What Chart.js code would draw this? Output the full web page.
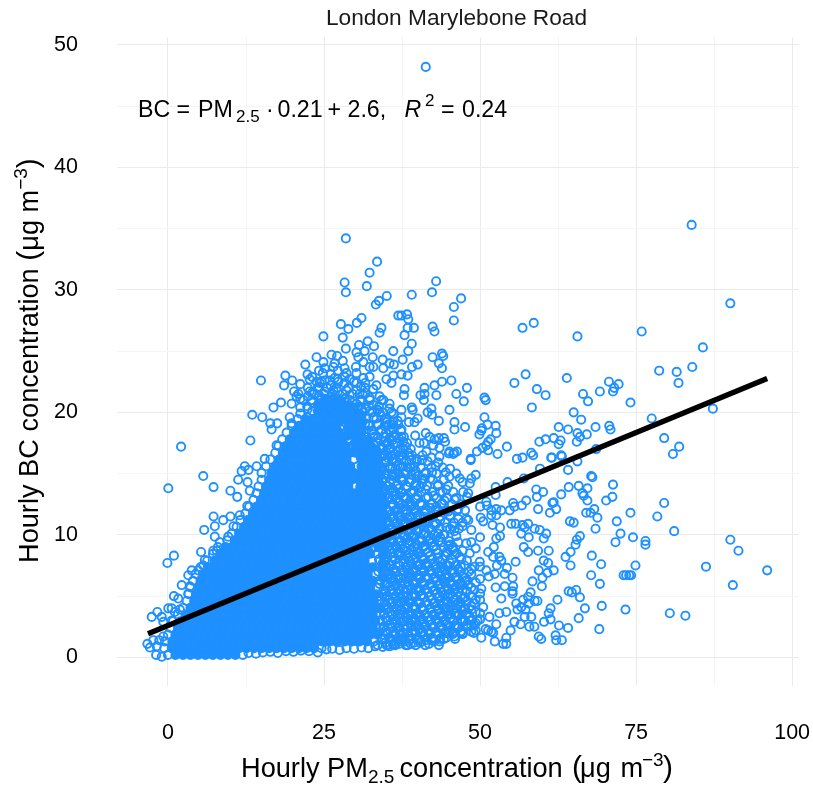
<!DOCTYPE html>
<html><head><meta charset="utf-8">
<style>html,body{margin:0;padding:0;background:#fff}canvas{display:block}</style>
<script src="https://cdn.jsdelivr.net/npm/chart.js@4/dist/chart.umd.min.js"></script>
</head><body><canvas id="c" width="813" height="785"></canvas>
<script>
const chartTitle = "London Marylebone Road";
const xTicks = [0,25,50,75,100];
const yTicks = [0,10,20,30,40,50];
const fitLine = [[-3.2,1.93],[96,22.76]];

// isolated points
const pointsRight = [[83.9,35.3],[90.1,28.9],[42.96,30.7],[42.3,29.8],[39.06,29.6],[46.96,29.3],[45.8,28.6],[45.8,27.5],[56.8,26.9],[58.6,27.3],[65.6,26.2],[75.9,26.6],[85.7,25.3],[84,23.7],[81.5,23.3],[78.7,23.4],[81.8,22.4],[87.3,20.3],[77.5,19.5],[79.5,17.9],[81.9,17.2],[80.9,16.6],[74.1,20.8],[72.2,22.3],[70.65,22.5],[71.5,22],[71.3,21.7],[69.2,21.7],[66.5,21.5],[67.3,20.9],[63.9,22.8],[57.3,23.1],[55.5,22.4],[59.1,21.9],[60.5,21.4],[58.3,20.4],[65,20],[66.2,19.4],[68.5,18.8],[70.7,18.9],[70.9,18.6],[67.1,18.2],[65.6,18.3],[66,18],[65.5,17.6],[64.1,18.6],[62.6,18.8],[61.8,17.9],[62.9,17.7],[62.6,17.4],[60.5,17.8],[59.5,17.6],[54.3,17.2],[52.8,16.6],[58.5,16.5],[58.2,16.7],[55.9,16.2],[56.8,16.3],[61.4,16.3],[63.1,16.4],[68.6,17],[47.9,22],[45.4,22.6],[43.9,22.5],[42.7,22.2],[46.2,21.5],[47.4,20.9],[43,21.4],[41.1,22],[37.9,21.9],[41.1,21.5],[40.45,21.4],[41,21],[37.8,21.4],[45.1,20.2],[42.2,20.3],[39.06,20.4],[39.2,20.2],[41.6,20],[42.3,19.8],[37.4,20.2],[37.4,19.6],[40,19.5],[39.5,19.2],[38.6,19.2],[43.4,19.3],[45.9,19.2],[45.9,18.6],[47.6,18.8],[50.7,19.6],[51.2,19],[50.3,18.7],[50.2,18.5],[49.9,18.2],[52.5,18.9],[52.6,18.3],[51.7,17.8],[51.3,17.6],[51,17.3],[50.4,17.1],[49.5,16.8],[51.3,16.9],[48.5,16.2],[50.7,21.2],[50.9,21],[43.9,24.8],[44.1,24.6],[42.4,24.5],[43.4,24],[43.9,23.6],[40,23.9],[39.1,23.7],[38.4,23],[37.4,23.1],[38.5,25],[39.06,25.6],[37.6,24.3],[37.9,26.3],[39.4,26.9],[38.4,26.9],[42.4,27],[42.7,26.6],[38.5,27.6],[38.3,28],[37.4,27.9],[39.6,18.1],[41.3,18.3],[41.9,18],[42.7,17.8],[43.4,17.9],[44.2,17.9],[44.4,17.6],[40.3,17.5],[41,17.5],[42.5,17.3],[43.5,17.1],[45.1,16.8],[46.3,16.8],[45.7,16.6],[41.4,16.8],[38.5,16.7],[37.4,18],[37.7,17.6],[39.8,16.2],[43.5,16.4],[42.2,16.3]];

const pointsLowerRight = [[96,7.1],[90.5,5.9],[86.2,7.4],[90.1,9.6],[91.4,8.7],[82.9,3.4],[80.4,3.6],[81.1,10.3],[79.5,12.6],[78.4,11.5],[74.9,7.5],[76.5,9.5],[76.5,9.2],[74.5,9.8],[74.1,11.8],[71.9,11.1],[72.5,10.1],[71.7,9.4],[71.3,14.1],[71.2,13.1],[70.2,12.8],[68.8,11.4],[68.5,10.5],[68.3,12.1],[67.7,11.8],[67,11.8],[67.9,8.3],[69.4,7.6],[67.8,6.7],[69.2,6],[69.5,4.2],[73.3,3.9],[69.1,2.3],[66.8,4],[65.8,3.2],[66,4.9],[65.4,5.5],[64.7,5.3],[64.2,5.4],[73,6.7],[73.4,6.7],[73.9,6.7],[74.2,6.7],[64.5,7.5],[63.7,8.2],[64.5,8.6],[65.3,9.2],[65.5,9.6],[66,9.9],[64.4,11.1],[65,11],[61.2,11.8],[61.6,12.6],[61.8,12.65],[62.2,12.1],[63,13.3],[64.2,13.9],[65.8,14],[67.2,13.8],[66.4,13.4],[66.6,13.2],[67.2,12.8],[67.8,14.8],[68,14.7],[64.1,15.3],[65.6,16],[63,16.5],[61.5,16.3],[59.6,15.4],[59,13.7],[60.1,13.5],[59.1,13.1],[59.3,12.1],[57.4,12.8],[56.7,12.4],[55.3,12.6],[55.5,12.3],[57,14.6],[54.4,14.3],[52.5,13.9],[52.5,13.25],[51,12.7],[51.1,12.4],[51.8,12],[52.6,12.1],[53.4,12],[54.75,12],[52.6,11.6],[51.8,11.6],[50.1,11.4],[50.5,11.1],[52,10.8],[53.2,10.6],[55,10.9],[55.7,10.9],[56.8,10.8],[57.7,10.9],[57.15,10.6],[58.75,10.5],[59.55,10.4],[60.6,10.1],[60.2,9.7],[56.6,10.1],[57.8,9.8],[53.2,9.9],[52.6,9.7],[52.2,9],[50,9.8],[57,9],[57.7,8.6],[59.3,8.7],[61,8.7],[60.2,7.9],[60.9,7.7],[55.7,7.8],[59.4,7.1],[61.8,7.1],[60.8,6.9],[60,6.5],[59.9,5.8],[58.4,6.2],[55.2,6.5],[54.3,7.3],[53.95,6.8],[53.1,8.2],[53.4,7.9],[51.3,8.6],[52.1,8.2],[52.7,7.5],[51,7.1],[51.4,6.6],[52.35,6.8],[49.95,7.8],[49.1,7.4],[55.3,5.8],[55.2,5.4],[53.95,5.8],[52.5,5.7],[55.2,5.2],[58.1,5.3],[57.7,4.95],[56.9,4.7],[58.75,4.6],[59.2,4.6],[57.8,4.4],[62.4,4.7],[61.3,4],[61,3.6],[61.3,3.1],[60.25,2.9],[62.65,2.6],[64.1,2.4],[62.1,1.8],[62.2,1.4],[63.1,1.4],[59.4,1.7],[59.8,1.5],[58.7,2.5],[57.9,2.5],[57.15,3.3],[58.2,3.3],[56.5,2.7],[55.5,2.9],[54.9,2.2],[54.2,1.6],[53.7,1.1],[54.2,1.1],[52.35,1.3],[51.8,2.1],[51.3,2.2],[52.1,2],[50.2,1.6],[49.3,2.2],[52.6,2.7],[50.9,2.3],[54.2,3.7],[53.4,4.8],[55.8,4.4],[56.6,4.1],[56,3.9],[57.3,3.9],[53.1,3.6],[51.5,3.3],[50.5,4.1],[50,4.7],[49.1,4.4],[48.6,3.9],[48.3,3.3],[49.1,2.6],[50.2,5.6],[49.1,5.5],[48.1,5.9],[48.6,6.8],[47.5,7.5],[46.75,8.2],[48.35,8.5],[47.8,9.3],[46.5,9.4],[48.6,9.4],[47.8,11.3],[48.1,11.2],[46.5,11.3],[48.1,13.4],[46.75,14.6],[46.2,15],[49.3,14.9],[48.6,14.6],[48.35,14.2],[45.1,14.75],[44.5,15.1],[42.9,15.6],[48.5,16.1],[45.9,16.7],[45,16.65],[37.5,1.3],[38.9,1.1],[40.6,1.3],[41.8,1.1],[43.5,1.3],[44.9,2],[47,2.1],[48.6,2.6]];

const pointsTop = [[41.3,48.2],[28.5,34.2],[33.5,32.3],[32.3,31.4],[28.3,30.6],[28.5,29.8],[31.85,30.3],[35.05,29.5],[33.8,29.1],[33.3,28.8],[36.9,27.9],[31,27.7],[30.25,27.3],[27.7,27.2],[28.9,26.8],[28,26.1],[34.2,26.9],[33.9,26.5],[24.9,26.2],[28.5,25.2],[32,25.8],[30.6,25.5],[33,25.4],[36.1,25],[30.2,24.9],[31.5,25],[30.5,24.5],[23.8,24.5],[26.2,24.7],[27.1,24.6],[24.9,24.1],[22,23.9],[28,24.2],[32.8,24.5],[34.4,24.3],[35.5,24],[36.2,23.9],[31.3,24.1],[26.5,23.7],[26.7,24],[30.1,23.7],[32.3,23.7],[32.9,23.7],[34.5,23.6],[28.3,23.6],[22.35,23.1],[22.7,22.7],[24.8,23.2],[18.8,23],[14.9,22.6],[18.6,22.2],[19.9,22.6],[26.7,22.8],[23.8,22.5],[25.9,22.6],[28.6,23.2],[30.2,22.4],[31.3,22.8],[32.3,22.9],[33.4,22.2],[35,22.7],[36.1,23],[35.8,22.4],[20.2,21.7],[20.9,21.5],[18.1,20.8],[16.9,20.4],[13.5,19.8],[15.1,19.6],[16.4,19.1],[17.5,19.1],[16.6,18.6],[13.2,17.7],[2.1,17.2],[19.8,19.1],[19.5,19.6],[19.8,20.7],[20.6,21.3],[21.7,21],[22.7,21.7],[24.3,22.4],[26.5,21.8],[28.6,21.8],[30.7,21.5],[33.9,21.3],[35.5,20.7],[33.9,20],[36.1,19.9],[35,19.2],[36.1,19.2]];

const pointsLeft = [[5.65,14.8],[0.05,13.8],[7.3,13.9],[10,13.6],[11.1,13.1],[11.25,14.5],[11.8,15.2],[12.3,15.6],[12.9,15.3],[14.2,15.6],[12.75,14.3],[13.1,13.6],[15.5,16.2],[17.4,17.3],[12.7,12.35],[7.3,11.5],[10,11.5],[8.85,11.2],[11.5,11.6],[7.5,10.7],[5.8,10.4],[7.5,9.85],[10.5,10.7],[8.3,9.4],[9.65,9.85],[5.3,8.6],[7.25,8.7],[7.8,8.7],[0.95,8.3],[-0.1,7.7],[5.9,7.95],[7.5,7.8],[9.1,8.6],[3.8,7.1],[3.25,6.7],[4.85,7.1],[5.65,7.5],[2.2,5.9],[0.95,5],[1.65,4.8],[3.25,5.2],[3.5,5.8],[0.05,4],[0.6,4],[1.1,3.7],[1.9,3.9],[-2.6,3.3],[-1.7,3.7],[-1,3.3],[-0.75,2.9],[0.6,3],[-3.3,1.1],[-2.9,0.8],[-2.35,1.4],[-1.9,0.2],[-1,0.05],[-1.8,0.9],[-1.4,1.4],[-0.75,1.7]];

const pointsBottomEdge = [[12.9,0.35],[14.1,0.3],[15.2,0.4],[16.4,0.45],[17.6,0.35],[18.9,0.5],[20.1,0.45],[21.3,0.55],[22.6,0.5],[24,0.4],[25.4,0.65],[26.3,0.7],[27.5,0.6],[28.6,0.75],[29.8,0.7],[31,0.8],[32.1,0.75],[33.2,0.9],[34.4,0.85],[35.5,0.9],[36.4,1]];

// busy right side of the cloud, one row per BC level: [BC, [PM2.5 ...]]
const busyRows = [
[1,[33.6,35,36.3,38.1,39.7,41.2,43.4]],
[1.5,[34.3,35.6,37.2,38.7,40.2,42.3,44.2,46]],
[2,[33.8,35.1,36.4,37.6,39.1,40.5,41.8,43.1,44.6,45.8,47.3,49]],
[2.5,[34.5,35.8,37,38.4,39.6,41,42.4,43.8,45.2,46.5,47.9]],
[3,[33.9,35.2,36.5,37.8,39,40.3,41.7,43,44.5,45.7,47.1,48.4,49.6]],
[3.5,[34.6,35.9,37.2,38.5,39.8,41.1,42.5,44,45.3,46.6,47.8]],
[4,[34,35.3,36.6,37.9,39.2,40.6,42,43.3,44.7,46.2,47.4]],
[4.5,[34.7,36,37.3,38.6,40,41.4,42.8,44.1,45.6,46.9]],
[5,[33.8,35.1,36.4,37.7,39.1,40.5,41.9,43.5,44.8]],
[5.5,[34.5,35.8,37.1,38.4,39.8,41.2,42.6,44.3,45.9,47.2]],
[6,[33.9,35.2,36.6,37.9,39.3,40.7,42.1,43.7,45.2,46.7]],
[6.5,[34.6,35.9,37.3,38.7,40.1,41.5,42.9,44.4,46,47.6]],
[7,[33.7,35.1,36.5,37.8,39.2,40.6,42.2,43.8,45.3,46.8,48.2]],
[7.5,[34.4,35.7,37.1,38.5,39.9,41.3,42.9,44.5,46]],
[8,[33.8,35,36.4,37.8,39.3,40.8,42.4,44,45.5,47]],
[8.5,[34.5,35.8,37.2,38.6,40,41.6,43.2,44.8,46.3]],
[9,[33.9,35.2,36.6,38,39.4,40.9,42.5,44.2,45.7]],
[9.5,[34.6,36,37.4,38.8,40.3,41.8,43.4,45]],
[10,[33.7,35.1,36.5,37.9,39.4,41,42.6,44.1]],
[10.5,[34.4,35.8,37.2,38.7,40.2,41.8,43.5,45.2,46.6]],
[11,[33.9,35.3,36.7,38.1,39.6,41.2,42.8,44.4,45.8,47.2]],
[11.5,[34.6,36,37.4,38.9,40.4,42,43.6,45.2]],
[12,[33.8,35.2,36.7,38.2,39.7,41.3,42.9,44.6,46.3,47.6]],
[12.5,[34.5,36,37.5,39,40.6,42.2,43.8,45.5,47]],
[13,[33.7,35.2,36.7,38.2,39.8,41.4,43,44.7,46.2]],
[13.5,[34.4,35.9,37.4,39,40.6,42.3,44,45.7,47.3]],
[14,[33.6,35.1,36.6,38.2,39.8,41.5,43.2,44.9]],
[14.5,[34.3,35.8,37.4,39,40.7,42.4,44.2]],
[15,[33.2,34.8,36.4,38,39.6,41.3,43]],
[15.5,[32.5,34,35.6,37.2,38.8,40.5,42.2,44]],
[16,[32,33.4,35,36.6,38.2,39.9,41.6]],
[16.5,[31.3,32.8,34.3,35.9,37.5,39.1,40.8]],
[17,[31,32.5,34,35.6,37.2,38.9]],
[17.5,[30.5,32,33.5,35.1,36.7,38.3]],
[18,[30,31.5,33,34.6,36.2,37.8]],
[18.5,[29.5,31,32.6,34.1,35.7,37.3]],
[19,[29,30.5,32.1,33.7,35.3,36.9]],
[19.5,[28.7,30.2,31.8,33.4,35]],
[20,[28,29.6,31.2,32.8,34.4,35.8]],
[20.5,[22.3,27.5,29,30.6,32.2,33.8]],
[21,[23,24.5,26,27.6,29.1,30.8,32.4,34.5]],
[21.5,[23.4,25,26.4,28,29.6,31.2]],
[22,[24,25.5,27,28.9,31.6]],
[22.5,[24.6,27.3,29.8]]
];

// same area read column by column: [PM2.5, [BC ...]]
const busyColumns = [
[21.2,[19.9,20.4,21.1,22.3]],[22.4,[19.6,20.3,21.3,22]],[23.1,[20.1,20.8,21.6,22.9]],[24.2,[20.7,21.4,22.1,23.4]],[25.1,[20.9,21.7,22.6,23.6]],[26.1,[20.4,21.3,22.2,23.1]],[27.2,[19.9,20.8,21.7,22.7,23.4]],[28.3,[19.2,20.3,21.1,22.4,22.9]],[29.1,[18.4,19.3,20.6,21.4,22.7]],
[30.2,[17.1,18.1,19.4,20.7,21.8,23.2]],[30.9,[16.3,17.4,18.7,19.8,20.9,22.1]],
[31.6,[13.2,14.1,15.3,16.6,17.2,18.4,19.1,20.3,21.6,22.4]],[32.3,[11.4,12.6,13.7,14.4,15.8,16.9,17.7,18.9,20.1,21.2]],[32.9,[11.9,13.1,14.3,15.1,16.2,17.4,18.2,19.6,20.6,21.9]],
[33.6,[10.6,11.3,12.4,13.4,14.8,15.6,16.7,17.9,19,20.2]],[34.2,[11.7,12.8,13.9,15.2,16.4,17.2,18.6,19.7,21]],[34.9,[1.2,2.2,3.2,4.3,5.4,6.1,7.3,8.4,9.2,10.3,11.1,12.2,13.3,14.6,15.9,16.8,18.3,19.4]],
[35.5,[1.6,2.7,3.7,4.7,5.8,6.8,7.6,8.8,9.9,10.8,11.9,13.6,14.3,15.4,17.1,17.9,20.3]],[36.1,[1.1,2.1,3.1,4.1,5.2,6.3,7.2,8.2,9.4,10.2,11.3,12.4,13.2,14.9,16.2,17.4,18.7]],
[36.8,[1.4,2.4,3.4,4.4,5.6,6.6,7.7,8.6,9.7,10.7,11.6,12.7,14.1,15.7,16.8,19.3]],[37.4,[1.8,2.9,3.9,4.8,6.1,7.1,8.3,9.1,10.4,11.2,12.2,13.4,14.7,16.1,18.6]],
[38.1,[1.3,2.3,3.3,4.3,5.3,6.4,7.4,8.7,9.6,10.9,11.7,13.1,15.2,17.2]],[38.7,[1.7,2.8,3.7,4.7,5.9,6.9,7.9,9.2,10.1,11.4,12.7,14.3,16.4]],
[39.4,[1.2,2.2,3.2,4.2,5.2,6.2,7.2,8.4,9.8,10.7,12.1,13.6,15.6]],[40,[1.6,2.6,3.6,4.6,5.7,6.7,7.8,8.9,10.3,11.6,13.2,14.8]],
[40.7,[2.1,3.1,4.1,5.1,6.2,7.3,8.2,9.5,11,12.4,14.2,16.1]],[41.3,[1.4,2.5,3.5,4.5,5.5,6.6,7.7,8.8,10.2,11.8,13.7,15.1]],
[42,[1.9,3,3.9,5,6,7.1,8.3,9.7,12.2,14.6]],[42.6,[1.3,2.4,3.4,4.4,5.4,6.5,7.6,9.1,10.8,13.2]],
[43.3,[1.8,2.8,3.8,4.9,5.9,6.9,8.1,10.1,11.9,14.1,15.9]],[43.9,[2.3,3.3,4.2,5.3,6.4,7.4,9.4,12.6]],
[44.6,[1.6,2.7,3.7,4.6,5.8,6.8,8.6,10.6,13.7]],[45.2,[2.2,3.2,4.1,5.2,6.2,7.7,9.2,11.6,15.4]],
[45.9,[1.7,2.6,3.6,4.7,5.6,6.9,8.4,10.3,12.9]],[46.5,[2.4,3.4,4.4,5.3,6.4,7.2,12.1]],
[47.2,[1.9,2.9,3.8,4.8,5.9,6.6,8.7,10.7,14.3]],[47.9,[2.7,3.6,4.6,5.4,6.3,7.9,13.1]],
[48.6,[2.1,3,4.2,5,5.7,7.2,10.4]],[49.3,[2.8,3.7,4.7,6.1,8.9]],[50,[3.1,3.6,5.2,6.4,7.4,12.3]]
];

// the most crowded part just right of the solid heart: [PM2.5, [BC ...]]
const crowdedColumns = [
[34.7,[1.5,2.5,3.6,4.9,5.9,6.9,7.9,8.7,9.5,10.6,11.5,12.5,13.7,14.9,15.5,16.5,17.6,18.9]],
[35.2,[1,1.9,3,4,5,6.5,7,8.2,9,10,11,12,13,14,15,16.3,17.3]],
[35.9,[1.3,2.4,3.4,4.5,5.5,6.7,7.9,8.9,9.7,10.5,11.7,12.9,13.8,14.8,16,17.7,19]],
[36.4,[1.8,2.7,3.7,4.8,5.8,6.9,8,9.1,10,10.9,12,13.5,15.3,16.6,18.2]],
[37,[1.1,2.2,3.2,4.2,5.2,6.4,7.5,8.4,9.5,10.6,11.5,12.6,13.8,15,16.4,17.9]],
[37.7,[1.5,2.5,3.5,4.6,5.6,6.7,7.7,8.8,9.9,10.8,12,13.1,14.4,15.6,17]],
[38.4,[1,2,3,4,5,6.1,7.1,8.1,9.3,10.3,11.3,12.5,13.9,15.5]],
[39,[1.5,2.6,3.5,4.5,5.6,6.6,7.6,8.8,9.9,11,12.3,13.4,14.9,16.1]],
[39.7,[2,3,4,5,6,7,8.1,9.3,10.4,11.8,12.9,14.2,15.2]],
[40.4,[1.2,2.3,3.3,4.4,5.4,6.4,7.5,8.5,9.7,11,12.6,13.9]],
[41,[1.8,2.9,3.9,4.9,5.9,7,8,9.1,10.6,11.5,14.6]],
[41.7,[2.2,3.3,4.3,5.3,6.4,7.4,8.6,9.9,11.3,13.1]],
[42.3,[1.6,2.7,3.7,4.7,5.7,6.8,8,9.4,10.4,12.6,15.1]],
[43,[2.1,3.1,4.2,5.2,6.2,7.2,8.8,10.9,12.3]],
[43.6,[1.5,2.6,3.6,4.6,5.6,6.7,7.8,9.8,11.2,13.5]],
[44.3,[2,3,4,5.1,6.1,7.1,8.3,10,12.8]],
[44.9,[2.6,3.5,4.5,5.5,6.5,7.5,9.1,11.9]],
[45.6,[1.9,3,3.9,4.9,5.9,7.1,8.8,10.7]],
[46.2,[2.6,3.6,4.7,5.8,6.6,9.9]],
[46.9,[2.1,3.1,4.1,5,6,7.4]],
[47.6,[3,4,4.9,6.2]]
];

// solid heart of the cloud, where the rings merge: [BC, [PM2.5 ...]]
const solidRows = [
[0.2,[0,1.2,2.4,3.6,4.8,6,7.2,8.4,9.6,10.8,12]],
[0.75,[-0.6,0.6,1.8,3,4.2,5.4,6.6,7.8,9,10.2,11.4,12.6,13.8,15,16.2,17.4,18.6,19.8,21,22.2,23.4,24.6]],
[1.3,[-0.5,0.7,1.9,3.1,4.3,5.5,6.7,7.9,9.1,10.3,11.5,12.7,13.9,15.1,16.3,17.5,18.7,19.9,21.1,22.3,23.5,24.7,25.9,27.1,28.3,29.5,30.7,31.9,33]],
[1.85,[0,1.2,2.4,3.6,4.8,6,7.2,8.4,9.6,10.8,12,13.2,14.4,15.6,16.8,18,19.2,20.4,21.6,22.8,24,25.2,26.4,27.6,28.8,30,31.2,32.4,33.6,34.5]],
[2.4,[0.4,1.6,2.8,4,5.2,6.4,7.6,8.8,10,11.2,12.4,13.6,14.8,16,17.2,18.4,19.6,20.8,22,23.2,24.4,25.6,26.8,28,29.2,30.4,31.6,32.8,34]],
[2.95,[0.8,2,3.2,4.4,5.6,6.8,8,9.2,10.4,11.6,12.8,14,15.2,16.4,17.6,18.8,20,21.2,22.4,23.6,24.8,26,27.2,28.4,29.6,30.8,32,33.2,34.4]],
[3.5,[1.6,2.8,4,5.2,6.4,7.6,8.8,10,11.2,12.4,13.6,14.8,16,17.2,18.4,19.6,20.8,22,23.2,24.4,25.6,26.8,28,29.2,30.4,31.6,32.8,34]],
[4.05,[2.4,3.6,4.8,6,7.2,8.4,9.6,10.8,12,13.2,14.4,15.6,16.8,18,19.2,20.4,21.6,22.8,24,25.2,26.4,27.6,28.8,30,31.2,32.4,33.6,34.6]],
[4.6,[3,4.2,5.4,6.6,7.8,9,10.2,11.4,12.6,13.8,15,16.2,17.4,18.6,19.8,21,22.2,23.4,24.6,25.8,27,28.2,29.4,30.6,31.8,33,34]],
[5.15,[3.3,4.5,5.7,6.9,8.1,9.3,10.5,11.7,12.9,14.1,15.3,16.5,17.7,18.9,20.1,21.3,22.5,23.7,24.9,26.1,27.3,28.5,29.7,30.9,32.1,33.3,34.4]],
[5.7,[3.6,4.8,6,7.2,8.4,9.6,10.8,12,13.2,14.4,15.6,16.8,18,19.2,20.4,21.6,22.8,24,25.2,26.4,27.6,28.8,30,31.2,32.4,33.6]],
[6.25,[4,5.2,6.4,7.6,8.8,10,11.2,12.4,13.6,14.8,16,17.2,18.4,19.6,20.8,22,23.2,24.4,25.6,26.8,28,29.2,30.4,31.6,32.8,34]],
[6.8,[4.4,5.6,6.8,8,9.2,10.4,11.6,12.8,14,15.2,16.4,17.6,18.8,20,21.2,22.4,23.6,24.8,26,27.2,28.4,29.6,30.8,32,33.2]],
[7.35,[5.2,6.4,7.6,8.8,10,11.2,12.4,13.6,14.8,16,17.2,18.4,19.6,20.8,22,23.2,24.4,25.6,26.8,28,29.2,30.4,31.6,32.8,34]],
[7.9,[6.3,7.5,8.7,9.9,11.1,12.3,13.5,14.7,15.9,17.1,18.3,19.5,20.7,21.9,23.1,24.3,25.5,26.7,27.9,29.1,30.3,31.5,32.7]],
[8.45,[7.2,8.4,9.6,10.8,12,13.2,14.4,15.6,16.8,18,19.2,20.4,21.6,22.8,24,25.2,26.4,27.6,28.8,30,31.2,32.4,33.6]],
[9,[8,9.2,10.4,11.6,12.8,14,15.2,16.4,17.6,18.8,20,21.2,22.4,23.6,24.8,26,27.2,28.4,29.6,30.8,32,33.2]],
[9.55,[9.5,10.7,11.9,13.1,14.3,15.5,16.7,17.9,19.1,20.3,21.5,22.7,23.9,25.1,26.3,27.5,28.7,29.9,31.1,32.3,33.5]],
[10.1,[10.2,11.4,12.6,13.8,15,16.2,17.4,18.6,19.8,21,22.2,23.4,24.6,25.8,27,28.2,29.4,30.6,31.8,33]],
[10.65,[11,12.2,13.4,14.6,15.8,17,18.2,19.4,20.6,21.8,23,24.2,25.4,26.6,27.8,29,30.2,31.4,32.6]],
[11.2,[11.6,12.8,14,15.2,16.4,17.6,18.8,20,21.2,22.4,23.6,24.8,26,27.2,28.4,29.6,30.8,32]],
[11.75,[12.4,13.6,14.8,16,17.2,18.4,19.6,20.8,22,23.2,24.4,25.6,26.8,28,29.2,30.4,31.6]],
[12.3,[13,14.2,15.4,16.6,17.8,19,20.2,21.4,22.6,23.8,25,26.2,27.4,28.6,29.8,31]],
[12.85,[13.7,14.9,16.1,17.3,18.5,19.7,20.9,22.1,23.3,24.5,25.7,26.9,28.1,29.3,30.5,31.5]],
[13.4,[14.2,15.4,16.6,17.8,19,20.2,21.4,22.6,23.8,25,26.2,27.4,28.6,29.8,31]],
[13.95,[14.5,15.7,16.9,18.1,19.3,20.5,21.7,22.9,24.1,25.3,26.5,27.7,28.9,30.1]],
[14.5,[15,16.2,17.4,18.6,19.8,21,22.2,23.4,24.6,25.8,27,28.2,29.4,30.6]],
[15.05,[15,16.6,17.8,19,20.2,21.4,22.6,23.8,25,26.2,27.4,28.6,29.8,31]],
[15.6,[15.7,17.2,18.4,19.6,20.8,22,23.2,24.4,25.6,26.8,28,29.2,30.4]],
[16.15,[16.4,17.8,19,20.2,21.4,22.6,23.8,25,26.2,27.4,28.6,29.8]],
[16.7,[17.2,18.4,19.6,20.8,22,23.2,24.4,25.6,26.8,28,29.2,30]],
[17.25,[17.7,18.9,20.1,21.3,22.5,23.7,24.9,26.1,27.3,28.5,29.5]],
[17.8,[18.3,19.5,20.7,21.9,23.1,24.3,25.5,26.7,27.9,29]],
[18.35,[19,20.2,21.4,22.6,23.8,25,26.2,27.4,28.5]],
[18.9,[19.8,21,22.2,23.4,24.6,25.8,27,28]],
[19.45,[20.8,22,23.2,24.4,25.6,26.8,27.5]]
];

// extra solid columns on the shoulder of the heart: [PM2.5, [BC ...]]
const solidColumns = [
[24,[20.1,20.6]],[25.2,[20.1,20.6,21.1]],[26.4,[20,20.6,21.1]],[27.6,[19.3,19.9,20.4,20.9]],[28.8,[18.1,18.7,19.3,19.9,20.4]],[29.9,[16.9,17.5,18.1,18.7,19.3,19.9,20.4]],
[30.8,[10.3,10.9,11.5,12.1,12.7,13.3,13.9,14.5]],[31,[14.9,15.6,16.2,16.8,17.4,18,18.6,19.2,19.7]],[31.7,[9.8,10.4,11,11.6,12.2,12.8,13.4,14,14.6,15.2,15.8]],[32.2,[11.6,12.2,12.8,13.4,14,14.6,15.2,15.8,16.4,17,17.6]],[32.6,[9.4,10,10.6,11.2,11.8,12.4,13,13.6,14.2,14.8,15.4,16,16.6,17.2]],[33.4,[10.9,11.5,12.1,12.7,13.3,13.9,14.5,15.1,15.7,16.3,16.9]],[33.7,[9,9.6,10.2,10.8,11.4,12,12.6,13.2,13.8,14.4,15,15.6,16.2]],[34.4,[6.5,7.1,7.7,8.3,8.9,9.5,10.1,10.7,11.3,11.9,12.5,13.1]]
];

const toPoints = pairs => pairs.map(([x,y]) => ({x,y}));
const fromRows = rows => rows.flatMap(([y,xs]) => xs.map(x => ({x,y})));
const fromColumns = cols => cols.flatMap(([x,ys]) => ys.map(y => ({x,y})));
// the outermost point of each solid row stays an open ring, as at the cloud's edge
const solidEdges = solidRows.map(([y,xs]) => [y,[xs[0],xs[xs.length-1]]]);
const solidInner = solidRows.map(([y,xs]) => [y,xs.slice(1,-1)]);

const ringPoints = [...toPoints(pointsRight),...toPoints(pointsLowerRight),...toPoints(pointsTop),...toPoints(pointsLeft),...toPoints(pointsBottomEdge),...fromRows(busyRows),...fromColumns(busyColumns),...fromColumns(crowdedColumns),...fromRows(solidEdges)];
const solidPoints = [...fromRows(solidInner),...fromColumns(solidColumns)];

const FONT = '"Liberation Sans", Arial, sans-serif';
const BLUE = '#1e90ff';

function drawRuns(ctx,x,y,runs,rot){
  ctx.save();ctx.translate(x,y);if(rot)ctx.rotate(rot);
  ctx.textBaseline='alphabetic';ctx.textAlign='left';ctx.fillStyle='#000';
  let cx=0;
  for(const r of runs){
    ctx.font=(r.i?'italic ':'')+r.s+'px '+FONT;
    if(r.at!==undefined)cx=r.at;
    ctx.fillText(r.t,cx,r.d||0);
    cx+=ctx.measureText(r.t).width;
  }
  ctx.restore();
}
const S=27.2,SS=19,F=23.2,FS=17;
const xTitleRuns=[{t:'Hourly PM',s:S,at:241},{t:'2.5',s:SS,d:6,at:368},{t:'concentration',s:S,at:399.5},{t:'(',s:30,at:572},{t:'μg',s:S,at:580},{t:'m',s:S,at:620.5},{t:'−3',s:SS,d:-11,at:642},{t:')',s:30,at:663}];
const yTitleRuns=[{t:'Hourly BC concentration ',s:S,at:0},{t:'(',s:30},{t:'μg',s:S},{t:' m',s:S},{t:'−3',s:SS,d:-11},{t:')',s:30}];
const eqRuns=[{t:'BC',s:F,at:138},{t:'=',s:F,at:176.5},{t:'PM',s:F,at:198},{t:'2.5',s:FS,d:5,at:236},{t:'·',s:F,at:266},{t:'0.21',s:F,at:277.5},{t:'+',s:F,at:327.5},{t:'2.6,',s:F,at:347.5},{t:'R',s:F,i:true,at:404.5},{t:'2',s:FS,d:-11,at:425},{t:'=',s:F,at:441},{t:'0.24',s:F,at:462}];

const textPlugin={id:'texts',afterDraw(chart){
  const c=chart.ctx;
  c.save();c.font='22.7px '+FONT;c.fillStyle='#1a1a1a';c.textAlign='left';c.textBaseline='alphabetic';
  c.fillText(chartTitle,326,25);c.restore();
  drawRuns(c,0,777,xTitleRuns);
  drawRuns(c,38,563,yTitleRuns,-Math.PI/2);
  drawRuns(c,0,117,eqRuns);
}};

const isMajorX=v=>xTicks.includes(v), isMajorY=v=>yTicks.includes(v);

new Chart(document.getElementById('c'),{
  type:'scatter',
  data:{datasets:[
    {label:'Fit',type:'line',data:toPoints(fitLine),borderColor:'#000',borderWidth:5.4,pointRadius:0,fill:false,order:0,borderCapStyle:'butt',tension:0},
    {label:'Hourly values',data:ringPoints,pointRadius:4.1,borderWidth:1.9,borderColor:BLUE,backgroundColor:'rgba(0,0,0,0)',pointStyle:'circle',order:1},
    {label:'Hourly values (overplotted)',data:solidPoints,pointRadius:4.1,borderWidth:1.9,borderColor:BLUE,backgroundColor:BLUE,pointStyle:'circle',order:2}
  ]},
  options:{
    responsive:false,animation:false,events:[],
    layout:{autoPadding:false,padding:{top:37,right:14,left:0,bottom:0}},
    plugins:{legend:{display:false},tooltip:{enabled:false},title:{display:false}},
    scales:{
      x:{type:'linear',min:-8.17,max:101.1,
        afterFit:s=>{s.height=99;s.paddingLeft=0;s.paddingRight=0;s.paddingTop=0;s.paddingBottom=0},
        border:{display:false},
        grid:{drawTicks:false,color:c=>isMajorX(c.tick.value)?'#ebebeb':'#f5f5f5',lineWidth:1},
        ticks:{stepSize:12.5,includeBounds:false,autoSkip:false,maxRotation:0,padding:34,color:'#000',
          font:{family:FONT,size:21.5},callback:v=>isMajorX(v)?String(v):''}},
      y:{type:'linear',min:-2.34,max:50.64,
        afterFit:s=>{s.width=117;s.paddingLeft=0;s.paddingRight=0;s.paddingTop=0;s.paddingBottom=0},
        border:{display:false},
        grid:{drawTicks:false,color:c=>isMajorY(c.tick.value)?'#ebebeb':'#f5f5f5',lineWidth:1},
        ticks:{stepSize:5,includeBounds:false,autoSkip:false,padding:39,color:'#000',
          font:{family:FONT,size:21.5},callback:v=>isMajorY(v)?String(v):''}}
    }
  },
  plugins:[textPlugin]
});
</script></body></html>
